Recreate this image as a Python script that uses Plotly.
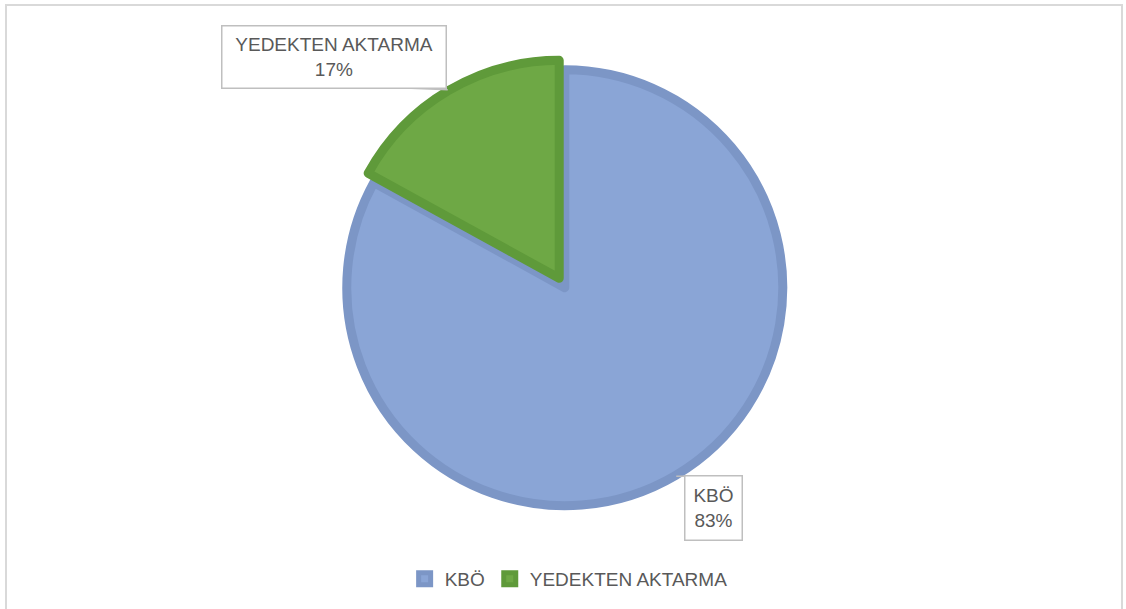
import math
import plotly.graph_objects as go

# ---- data ----
labels = ["KBÖ", "YEDEKTEN AKTARMA"]
values = [83, 17]
fill_colors = ["#8AA5D6", "#6EA845"]
line_colors = ["#7C96C6", "#5F9A3A"]

W, H = 1126, 609
CX, CY = 562, 283      # pie centre (px)
R = 218                # pie radius (px)
PULL = 0.025
LINE_W = 9

box = 2 * R * (1 + PULL)
dx = box / W / 2
dy = box / H / 2
xc = CX / W
yc = 1 - CY / H

fig = go.Figure()
fig.add_trace(go.Pie(
    labels=labels,
    values=values,
    sort=False,
    direction="clockwise",
    rotation=0,
    pull=[PULL, PULL],
    textinfo="none",
    hoverinfo="label+percent",
    marker=dict(colors=fill_colors, line=dict(color=line_colors, width=LINE_W)),
    domain=dict(x=[xc - dx, xc + dx], y=[yc - dy, yc + dy]),
))

# label boxes: centre (px), size, and point on box where the leader joins
box_pos = {
    "KBÖ": (713.5, 507.5, 52, 59, 707, 476),
    "YEDEKTEN AKTARMA": (334, 57.5, 219, 57, 405, 88),
}
total = sum(values)
cum = 0
annotations = []
shapes = [dict(
    type="rect", xref="paper", yref="paper",
    x0=6 / W, x1=1122 / W, y0=-0.05, y1=1 - 5 / H,
    line=dict(color="#D9D9D9", width=2), fillcolor="rgba(0,0,0,0)", layer="below",
)]
for lab, v in zip(labels, values):
    mid = (cum + v / 2) / total * 2 * math.pi  # clockwise from 12 o'clock
    cum += v
    rr = R * (1 + PULL) + 1
    px = CX + rr * math.sin(mid)
    py = CY - rr * math.cos(mid)
    pct = round(v / total * 100)
    bx, by, bw, bh, jx, jy = box_pos[lab]
    shapes.append(dict(
        type="line", xref="paper", yref="paper",
        x0=px / W, y0=1 - py / H, x1=jx / W, y1=1 - jy / H,
        line=dict(color="#BFBFBF", width=1.5), layer="above",
    ))
    annotations.append(dict(
        x=bx / W, y=1 - by / H, xref="paper", yref="paper",
        xanchor="center", yanchor="middle",
        text=f"{lab}<br>{pct}%",
        showarrow=False,
        width=bw, height=bh,
        align="center",
        bgcolor="white", bordercolor="#BFBFBF", borderwidth=1.5, borderpad=2,
        font=dict(family="Liberation Sans, Arial, sans-serif", size=19, color="#595959"),
    ))

fig.update_layout(
    width=W, height=H,
    margin=dict(l=0, r=0, t=0, b=0),
    paper_bgcolor="white",
    plot_bgcolor="white",
    showlegend=True,
    legend=dict(
        orientation="h", x=0.505, xanchor="center", y=1 - 579 / H, yanchor="middle",
        font=dict(family="Liberation Sans, Arial, sans-serif", size=19, color="#595959"),
        itemwidth=30, traceorder="normal",
    ),
    annotations=annotations,
    shapes=shapes,
)

fig.write_html("out.html", post_script="document.body.style.margin='0px';",
               config={"displayModeBar": False})
